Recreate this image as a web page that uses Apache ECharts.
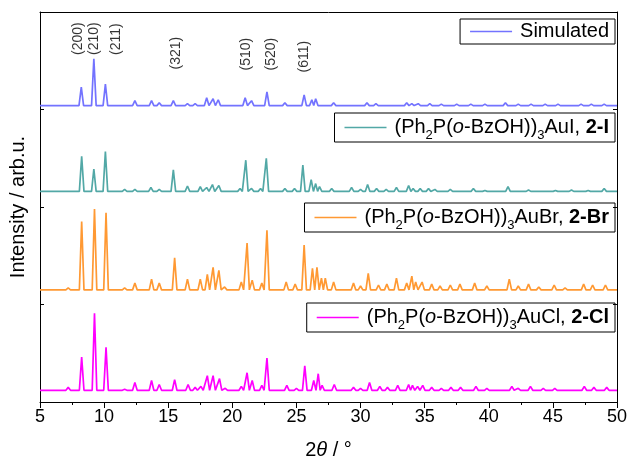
<!DOCTYPE html>
<html>
<head>
<meta charset="utf-8">
<script src="https://cdn.jsdelivr.net/npm/echarts@6/dist/echarts.min.js"></script>
<style>
  html, body { margin: 0; padding: 0; background: #fff; }
  #chart { width: 630px; height: 465px; }
</style>
</head>
<body>
<div id="chart"></div>
<script>
// x axis ticks (2theta, degrees)
const xTicks = [5, 10, 15, 20, 25, 30, 35, 40, 45, 50];

// baselines of the stacked patterns (axis units)
const baseSim = 3.04;
const baseI = 2.16;
const baseBr = 1.15;
const baseCl = 0.12;

// simulated pattern: peak positions and heights
const simPos = [8.22, 9.2, 10.1, 12.4, 13.7, 14.3, 15.4, 16.5, 17.1, 18.0, 18.5, 18.9, 21.0, 21.5, 22.7, 24.1, 25.6, 26.2, 26.5, 27.9,
  30.5, 31.2, 33.6, 34.0, 34.5, 35.4, 36.3, 37.5, 38.6, 39.7, 41.3, 42.3, 43.3, 44.4, 45.4, 47.2, 48.0, 49.0];
const simHgt = [0.19, 0.48, 0.22, 0.05, 0.05, 0.03, 0.05, 0.02, 0.02, 0.08, 0.07, 0.06, 0.08, 0.05, 0.14, 0.03, 0.11, 0.06, 0.07, 0.03,
  0.03, 0.02, 0.03, 0.02, 0.02, 0.02, 0.015, 0.015, 0.015, 0.015, 0.03, 0.015, 0.015, 0.015, 0.015, 0.015, 0.015, 0.015];

// 2-I
const iPos = [8.25, 9.2, 10.1, 11.6, 12.4, 13.65, 14.3, 15.4, 16.5, 17.5, 18.0, 18.45, 18.95, 20.6, 21.05, 21.5, 22.2, 22.65, 24.1, 24.85,
  25.5, 26.15, 26.5, 26.8, 27.75, 29.3, 30.0, 30.55, 31.25, 32.0, 32.8, 33.75, 34.1, 34.65, 35.3, 35.8, 37.0, 38.8, 39.7, 41.5,
  43.1, 45.2, 46.45, 47.75, 49.0];
const iHgt = [0.36, 0.23, 0.41, 0.02, 0.02, 0.04, 0.02, 0.22, 0.055, 0.05, 0.04, 0.07, 0.06, 0.03, 0.32, 0.03, 0.03, 0.34, 0.03, 0.03,
  0.27, 0.12, 0.08, 0.05, 0.03, 0.04, 0.02, 0.07, 0.03, 0.02, 0.04, 0.06, 0.03, 0.03, 0.03, 0.02, 0.02, 0.03, 0.01, 0.05,
  0.015, 0.01, 0.015, 0.01, 0.03];

// 2-Br
const brPos = [7.2, 8.25, 9.25, 10.15, 11.6, 12.4, 13.7, 14.3, 15.5, 16.5, 17.5, 18.05, 18.5, 18.95, 19.4, 20.7, 21.15, 21.55, 22.3, 22.7,
  24.2, 24.9, 25.6, 26.25, 26.6, 26.95, 27.25, 27.9, 29.45, 30.0, 30.6, 31.4, 32.05, 32.8, 33.6, 34.0, 34.3, 34.8, 35.55, 36.2,
  37.0, 37.75, 38.9, 39.85, 41.6, 42.3, 43.1, 43.9, 45.1, 45.95, 47.4, 48.1, 49.1];
const brHgt = [0.02, 0.70, 0.83, 0.79, 0.02, 0.07, 0.11, 0.07, 0.33, 0.11, 0.11, 0.16, 0.23, 0.20, 0.03, 0.08, 0.48, 0.10, 0.07, 0.61,
  0.08, 0.06, 0.46, 0.22, 0.23, 0.12, 0.12, 0.08, 0.07, 0.04, 0.17, 0.05, 0.06, 0.12, 0.07, 0.14, 0.08, 0.08, 0.06, 0.04,
  0.05, 0.06, 0.07, 0.04, 0.11, 0.04, 0.06, 0.03, 0.05, 0.02, 0.06, 0.05, 0.05];

// 2-Cl
const clPos = [7.2, 8.25, 9.25, 10.15, 11.6, 12.4, 13.7, 14.3, 15.5, 16.55, 17.1, 17.55, 18.05, 18.5, 19.0, 19.45, 20.7, 21.15, 21.55, 22.3,
  22.7, 24.25, 25.0, 25.65, 26.35, 26.7, 27.0, 27.95, 29.45, 30.0, 30.7, 31.5, 32.1, 32.9, 33.75, 34.05, 34.45, 34.85, 35.55, 36.3,
  37.05, 37.8, 39.0, 39.85, 41.8, 42.3, 43.25, 44.25, 45.15, 47.45, 48.2, 49.2];
const clHgt = [0.03, 0.34, 0.79, 0.44, 0.01, 0.08, 0.10, 0.06, 0.11, 0.06, 0.03, 0.04, 0.15, 0.15, 0.12, 0.02, 0.04, 0.18, 0.10, 0.05,
  0.33, 0.05, 0.02, 0.25, 0.10, 0.17, 0.05, 0.06, 0.03, 0.02, 0.08, 0.04, 0.03, 0.05, 0.06, 0.05, 0.04, 0.05, 0.03, 0.02,
  0.03, 0.03, 0.04, 0.02, 0.04, 0.02, 0.04, 0.02, 0.02, 0.04, 0.03, 0.03];

// Miller index labels over the simulated pattern
const hklText = ['(200)', '(210)', '(211)', '(321)', '(510)', '(520)', '(611)'];
const hklX = [7.96, 9.26, 10.9, 15.65, 21.08, 23.05, 25.58];
const hklY = [3.56, 3.56, 3.56, 3.41, 3.40, 3.40, 3.38];

const FONT = '"Liberation Sans", Arial, sans-serif';
const PEAK_HALF = 0.18;

// line points: baseline, then a narrow peak for each listed reflection
function trace(base, pos, hgt) {
  const pts = [[5, base]];
  for (let i = 0; i < pos.length; i++) {
    const lo = i > 0 ? Math.max(pos[i] - PEAK_HALF, (pos[i] + pos[i - 1]) / 2) : pos[i] - PEAK_HALF;
    const hi = i < pos.length - 1 ? Math.min(pos[i] + PEAK_HALF, (pos[i] + pos[i + 1]) / 2) : pos[i] + PEAK_HALF;
    pts.push([lo, base], [pos[i], base + hgt[i]], [hi, base]);
  }
  pts.push([50, base]);
  return pts;
}

const rich = {
  s: { fontSize: 13, lineHeight: 13, verticalAlign: 'bottom', fontFamily: FONT, color: '#000' },
  i: { fontSize: 20, fontStyle: 'italic', fontFamily: FONT, color: '#000' },
  b: { fontSize: 20, fontWeight: 'bold', fontFamily: FONT, color: '#000' }
};

const legendText = {
  'Simulated': 'Simulated',
  '2-I': '(Ph{s|2}P({i|o}-BzOH)){s|3}AuI, {b|2-I}',
  '2-Br': '(Ph{s|2}P({i|o}-BzOH)){s|3}AuBr, {b|2-Br}',
  '2-Cl': '(Ph{s|2}P({i|o}-BzOH)){s|3}AuCl, {b|2-Cl}'
};

function makeLegend(name, top, lh) {
  return {
    data: [name],
    top: top,
    right: 15,
    orient: 'horizontal',
    icon: 'rect',
    itemWidth: 42,
    itemHeight: 1.5,
    selectedMode: false,
    borderColor: '#000',
    borderWidth: 1,
    padding: [0, 6, 0, 10],
    formatter: (n) => legendText[n],
    textStyle: { fontSize: 20, fontFamily: FONT, color: '#000', lineHeight: lh, padding: [0, 0, 0, 3], rich: rich }
  };
}

const chart = echarts.init(document.getElementById('chart'), null, { renderer: 'canvas' });

function lineSeries(name, color, base, pos, hgt) {
  return {
    name: name,
    type: 'line',
    color: color,
    showSymbol: false,
    symbol: 'none',
    lineStyle: { width: 1.7, color: color },
    data: trace(base, pos, hgt),
    animation: false,
    z: 3
  };
}

chart.setOption({
  animation: false,
  backgroundColor: '#fff',
  grid: { left: 40, right: 10, top: 12, bottom: 60 },
  legend: [
    makeLegend('Simulated', 19, 25),
    makeLegend('2-I', 113, 29),
    makeLegend('2-Br', 203, 29),
    makeLegend('2-Cl', 303, 29)
  ],
  xAxis: [
    {
      type: 'value', min: xTicks[0], max: xTicks[xTicks.length - 1], interval: 5,
      axisLine: { lineStyle: { color: '#000', width: 1 } },
      axisTick: { inside: false, length: 6, lineStyle: { color: '#000' } },
      minorTick: { show: true, splitNumber: 2, length: 3, lineStyle: { color: '#000' } },
      axisLabel: { fontSize: 18, fontFamily: FONT, color: '#000', margin: 6 },
      splitLine: { show: false },
      name: '2{i|θ} / °',
      nameLocation: 'middle',
      nameGap: 38,
      nameTextStyle: { fontSize: 20, fontFamily: FONT, color: '#000', rich: rich }
    },
    {
      type: 'value', position: 'top', min: 5, max: 50,
      axisLine: { show: true, onZero: false, lineStyle: { color: '#000', width: 1 } },
      axisTick: { show: false }, axisLabel: { show: false }, splitLine: { show: false }
    }
  ],
  yAxis: [
    {
      type: 'value', min: 0, max: 4, interval: 1,
      axisLine: { show: true, lineStyle: { color: '#000', width: 1 } },
      axisTick: { show: true, inside: true, length: 4, lineStyle: { color: '#000' } },
      axisLabel: { show: false },
      splitLine: { show: false },
      name: 'Intensity / arb.u.',
      nameLocation: 'middle',
      nameGap: 12,
      nameTextStyle: { fontSize: 20, fontFamily: FONT, color: '#000' }
    },
    {
      type: 'value', position: 'right', min: 0, max: 4, interval: 1,
      axisLine: { show: true, onZero: false, lineStyle: { color: '#000', width: 1 } },
      axisTick: { show: true, inside: true, length: 4, lineStyle: { color: '#000' } },
      axisLabel: { show: false }, splitLine: { show: false }
    }
  ],
  series: [
    lineSeries('Simulated', '#7373ff', baseSim, simPos, simHgt),
    lineSeries('2-I', '#52a8a6', baseI, iPos, iHgt),
    lineSeries('2-Br', '#ff9933', baseBr, brPos, brHgt),
    lineSeries('2-Cl', '#ff00ff', baseCl, clPos, clHgt),
    {
      name: 'hkl',
      type: 'scatter',
      symbolSize: 0,
      silent: true,
      data: hklText.map((t, i) => ({ name: t, value: [hklX[i], hklY[i]] })),
      label: {
        show: true,
        position: 'inside',
        rotate: 90,
        align: 'left',
        verticalAlign: 'middle',
        formatter: (p) => p.name,
        fontSize: 14,
        fontFamily: FONT,
        color: '#000'
      }
    }
  ]
});
</script>
</body>
</html>
